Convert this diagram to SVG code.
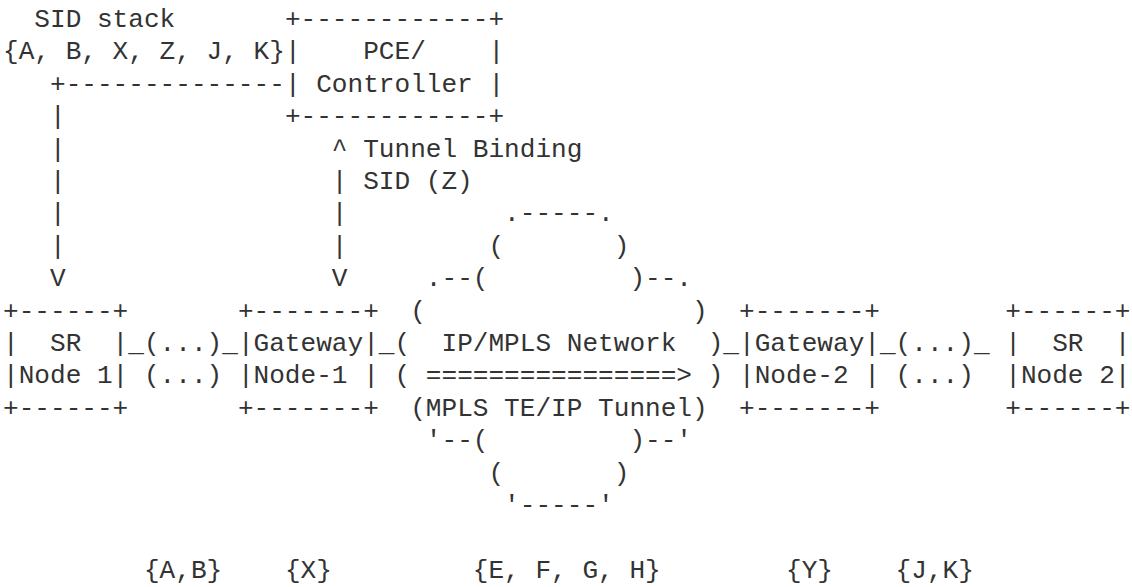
<svg xmlns="http://www.w3.org/2000/svg" width="1132" height="587" viewBox="0 0 1132 587" xml:space="preserve">
  <style>
    text { font-family: "Liberation Mono", "DejaVu Sans Mono", monospace; font-size: 26.1px; fill: #333333; white-space: pre; }
  </style>
  <rect width="1132" height="587" fill="#ffffff"/>

  <!-- grid: column c at x = 3 + 15.66*c, row n baseline at y = 27 + 32.4*n -->

  <!-- SID stack label -->
  <g id="sid-stack">
    <text x="34.32" y="27">SID stack</text>
    <text x="3" y="59.4">{A, B, X, Z, J, K}</text>
  </g>

  <!-- PCE / Controller -->
  <g id="pce-controller">
    <text x="284.88" y="27">+------------+</text>
    <text x="284.88" y="59.4">|    PCE/    |</text>
    <text x="284.88" y="91.8">| Controller |</text>
    <text x="284.88" y="124.2">+------------+</text>
  </g>

  <!-- SR Node 1 -->
  <g id="sr-node-1">
    <text x="3" y="318.6">+------+</text>
    <text x="3" y="351">|  SR  |</text>
    <text x="3" y="383.4">|Node 1|</text>
    <text x="3" y="415.8">+------+</text>
  </g>

  <!-- Gateway Node-1 -->
  <g id="gateway-node-1">
    <text x="237.9" y="318.6">+-------+</text>
    <text x="237.9" y="351">|Gateway|</text>
    <text x="237.9" y="383.4">|Node-1 |</text>
    <text x="237.9" y="415.8">+-------+</text>
  </g>

  <!-- IP/MPLS network cloud -->
  <g id="ip-mpls-network">
    <text x="504.12" y="221.4">.-----.</text>
    <text x="488.46" y="253.8">(       )</text>
    <text x="425.82" y="286.2">.--(         )--.</text>
    <text x="410.16" y="318.6">(                 )</text>
    <text x="394.5" y="351">(  IP/MPLS Network  )</text>
    <text x="394.5" y="383.4">( ================&gt; )</text>
    <text x="410.16" y="415.8">(MPLS TE/IP Tunnel)</text>
    <text x="425.82" y="448.2">'--(         )--'</text>
    <text x="488.46" y="480.6">(       )</text>
    <text x="504.12" y="513">'-----'</text>
  </g>

  <!-- Gateway Node-2 -->
  <g id="gateway-node-2">
    <text x="739.02" y="318.6">+-------+</text>
    <text x="739.02" y="351">|Gateway|</text>
    <text x="739.02" y="383.4">|Node-2 |</text>
    <text x="739.02" y="415.8">+-------+</text>
  </g>

  <!-- SR Node 2 -->
  <g id="sr-node-2">
    <text x="1005.24" y="318.6">+------+</text>
    <text x="1005.24" y="351">|  SR  |</text>
    <text x="1005.24" y="383.4">|Node 2|</text>
    <text x="1005.24" y="415.8">+------+</text>
  </g>

  <!-- connectors -->
  <g id="connectors">
    <!-- controller to SR Node 1 -->
    <text x="49.98" y="91.8">+--------------</text>
    <text x="49.98" y="124.2">|</text>
    <text x="49.98" y="156.6">|</text>
    <text x="49.98" y="189">|</text>
    <text x="49.98" y="221.4">|</text>
    <text x="49.98" y="253.8">|</text>
    <text x="49.98" y="286.2">V</text>
    <!-- controller to Gateway Node-1 -->
    <text x="331.86" y="156.6">^</text>
    <text x="331.86" y="189">|</text>
    <text x="331.86" y="221.4">|</text>
    <text x="331.86" y="253.8">|</text>
    <text x="331.86" y="286.2">V</text>
    <!-- links between nodes -->
    <text x="128.28" y="351">_(...)_</text>
    <text x="143.94" y="383.4">(...)</text>
    <text x="378.84" y="351">_</text>
    <text x="723.36" y="351">_</text>
    <text x="879.96" y="351">_(...)_</text>
    <text x="895.62" y="383.4">(...)</text>
  </g>

  <!-- connector label -->
  <g id="tunnel-binding-label">
    <text x="363.18" y="156.6">Tunnel Binding</text>
    <text x="363.18" y="189">SID (Z)</text>
  </g>

  <!-- per-segment SID labels -->
  <g id="segment-sids">
    <text x="143.94" y="577.8">{A,B}</text>
    <text x="284.88" y="577.8">{X}</text>
    <text x="472.8" y="577.8">{E, F, G, H}</text>
    <text x="786" y="577.8">{Y}</text>
    <text x="895.62" y="577.8">{J,K}</text>
  </g>
</svg>
